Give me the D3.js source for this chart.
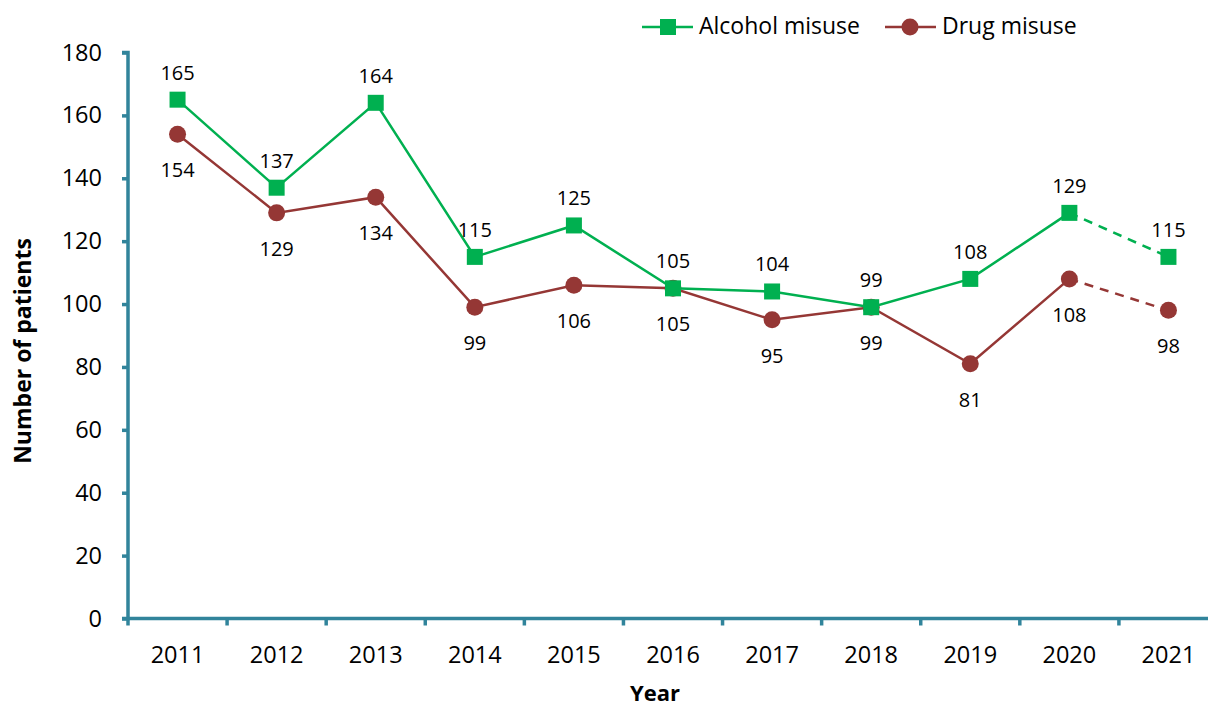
<!DOCTYPE html>
<html><head><meta charset="utf-8">
<script src="https://cdn.jsdelivr.net/npm/d3@7"></script>
<style>body{margin:0;background:#fff;} text{font-family:"Open Sans", sans-serif;}</style>
</head><body>
<svg id="c" width="1208" height="706"></svg>
<script>
const years = ["2011","2012","2013","2014","2015","2016","2017","2018","2019","2020","2021"];
const alcohol = [165,137,164,115,125,105,104,99,108,129,115];
const drug = [154,129,134,99,106,105,95,99,81,108,98];
const yTicks = [0,20,40,60,80,100,120,140,160,180];

const svg = d3.select("#c");
const axisColor = "#31849B";
const green = "#00B050", red = "#953735";
const x = d3.scaleBand().domain(years).range([128,1218]);
const y = d3.scaleLinear().domain([0,180]).range([618.5,52.5]);
const cx = d => x(d)+x.bandwidth()/2;

// axes
const ya = svg.append("g").attr("transform","translate(128,0)")
  .call(d3.axisLeft(y).tickValues(yTicks).tickSize(6).tickPadding(20));
const xa = svg.append("g").attr("transform","translate(0,618.5)")
  .call(d3.axisBottom(x).tickSize(0).tickPadding(28));
[ya,xa].forEach(g=>{
  g.select(".domain").attr("stroke",axisColor).attr("stroke-width",3.5);
  g.selectAll(".tick line").attr("stroke",axisColor).attr("stroke-width",3.5);
  g.selectAll("text").attr("fill","#000").style("font-size","23.5px").style("font-family","'Open Sans', sans-serif");
});
ya.select(".domain").attr("d","M-6,52.5H0V618.5H-6");
xa.select(".domain").attr("d","M128,0H1218");
// x boundary ticks
xa.selectAll(".bt").data(d3.range(0,11)).enter().append("line")
  .attr("x1",i=>128+i*x.bandwidth()).attr("x2",i=>128+i*x.bandwidth())
  .attr("y1",0).attr("y2",7).attr("stroke",axisColor).attr("stroke-width",3.5);

// titles
svg.append("text").attr("x",655).attr("y",701).attr("text-anchor","middle")
  .style("font-size","22px").style("font-weight","bold").text("Year");
svg.append("text").attr("transform","translate(31,351) rotate(-90)").attr("text-anchor","middle")
  .style("font-size","23px").style("font-weight","bold").text("Number of patients");

function drawSeries(vals,color,marker,labelDy){
  const pts = years.map((yr,i)=>({yr,v:vals[i]}));
  const line = d3.line().x(d=>cx(d.yr)).y(d=>y(d.v));
  svg.append("path").datum(pts.slice(0,10)).attr("d",line).attr("fill","none")
    .attr("stroke",color).attr("stroke-width",2.5);
  svg.append("path").datum(pts.slice(9)).attr("d",line).attr("fill","none")
    .attr("stroke",color).attr("stroke-width",2.5).attr("stroke-dasharray","9,7");
  const g = svg.append("g");
  if(marker==="square"){
    g.selectAll("rect").data(pts).enter().append("rect")
      .attr("x",d=>cx(d.yr)-8).attr("y",d=>y(d.v)-8).attr("width",16).attr("height",16).attr("fill",color);
  } else {
    g.selectAll("circle").data(pts).enter().append("circle")
      .attr("cx",d=>cx(d.yr)).attr("cy",d=>y(d.v)).attr("r",8.5).attr("fill",color);
  }
  svg.append("g").selectAll("text").data(pts).enter().append("text")
    .attr("x",d=>cx(d.yr)).attr("y",d=>y(d.v)+labelDy).attr("text-anchor","middle")
    .style("font-size","20px").attr("fill","#000").text(d=>d.v);
}
drawSeries(drug,red,"circle",43);
drawSeries(alcohol,green,"square",-20);

// legend
const lg = svg.append("g");
lg.append("line").attr("x1",642).attr("x2",693).attr("y1",27).attr("y2",27).attr("stroke",green).attr("stroke-width",2.5);
lg.append("rect").attr("x",660).attr("y",19).attr("width",16).attr("height",16).attr("fill",green);
lg.append("text").attr("x",699).attr("y",34).style("font-size","23px").text("Alcohol misuse");
lg.append("line").attr("x1",885).attr("x2",936).attr("y1",27).attr("y2",27).attr("stroke",red).attr("stroke-width",2.5);
lg.append("circle").attr("cx",910).attr("cy",27).attr("r",8.5).attr("fill",red);
lg.append("text").attr("x",942).attr("y",34).style("font-size","23px").text("Drug misuse");
</script>
</body></html>
